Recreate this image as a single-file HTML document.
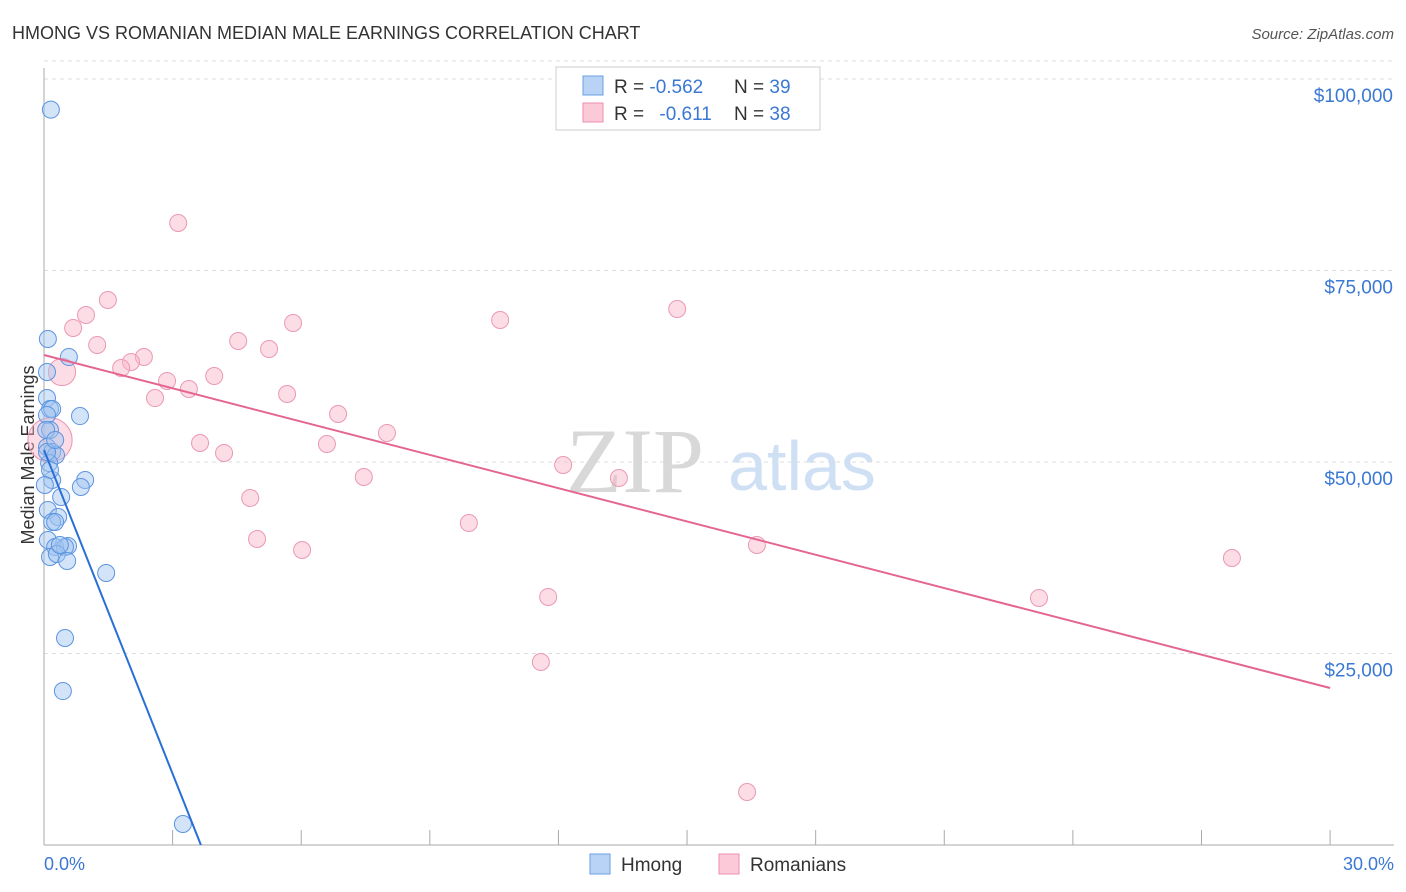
<!DOCTYPE html>
<html><head><meta charset="utf-8"><style>
body{margin:0;background:#fff;font-family:"Liberation Sans",sans-serif;}
svg{display:block}
</style></head><body>
<svg id="chart" width="1406" height="892">
<text x="12" y="39" font-size="18" fill="#333">HMONG VS ROMANIAN MEDIAN MALE EARNINGS CORRELATION CHART</text>
<text x="1394" y="39" font-size="15" fill="#555" font-style="italic" text-anchor="end">Source: ZipAtlas.com</text>
<g id="grid"></g>
<text x="635" y="492" font-size="92" fill="#d8d8d8" font-family="Liberation Serif,serif" text-anchor="middle">ZIP</text>
<text x="802" y="490" font-size="70" fill="#cfe0f5" text-anchor="middle">atlas</text>
<line x1="44" y1="68" x2="44" y2="845" stroke="#aaa"/>
<line x1="44" y1="845" x2="1394" y2="845" stroke="#aaa"/>
<g id="xticks"></g>
<text x="44" y="870" font-size="18" fill="#3a78d4">0.0%</text>
<text x="1394" y="870" font-size="18" fill="#3a78d4" text-anchor="end">30.0%</text>
<text transform="translate(34,455) rotate(-90)" font-size="18" fill="#333" text-anchor="middle">Median Male Earnings</text>
<g id="pts"></g>
<g id="lines"></g>
<g>
<rect x="556" y="67" width="264" height="63" fill="#fff" stroke="#ccc"/>
<rect x="583" y="76" width="20" height="19" fill="#b8d3f5" stroke="#6a9fe0"/>
<rect x="583" y="103" width="20" height="19" fill="#fbc9d8" stroke="#ec8fae"/>
<text x="614" y="93" font-size="19" fill="#333">R = <tspan fill="#3a78d4">-0.562</tspan></text>
<text x="734" y="93" font-size="19" fill="#333">N = <tspan fill="#3a78d4">39</tspan></text>
<text x="614" y="120" font-size="19" fill="#333">R = <tspan fill="#3a78d4" dx="10">-0.611</tspan></text>
<text x="734" y="120" font-size="19" fill="#333">N = <tspan fill="#3a78d4">38</tspan></text>
</g>
<g>
<rect x="590" y="854" width="20" height="20" fill="#b8d3f5" stroke="#6a9fe0"/>
<text x="621" y="871" font-size="19" fill="#333">Hmong</text>
<rect x="719" y="854" width="20" height="20" fill="#fbc9d8" stroke="#ec8fae"/>
<text x="750" y="871" font-size="19" fill="#333">Romanians</text>
</g>
</svg>
<script>
const yTicks=[25000,50000,75000,100000];
const yTickLabels=["$25,000","$50,000","$75,000","$100,000"];
const hmongX=[0.16,0.09,0.58,0.07,0.07,0.14,0.19,0.84,0.07,0.14,0.07,0.19,0.28,0.12,0.96,0.86,0.19,0.40,0.09,0.33,0.19,0.26,0.09,0.26,0.56,0.49,0.14,0.30,0.54,1.45,0.49,0.44,3.24,0.05,0.07,0.14,0.02,0.37,0.26];
const hmongY=[96000,66060,63700,61750,58350,56920,56920,56000,56140,54180,51960,51300,50900,49870,47650,46740,47650,45430,43730,42820,42170,42170,39820,38900,39030,38900,37600,37990,37080,35510,27020,20100,2740,54180,51300,48960,47000,39170,52870];
const romX=[3.13,1.49,0.98,0.68,1.24,5.81,4.53,5.25,10.64,14.77,2.33,2.03,1.80,0.42,3.97,2.87,3.38,2.59,5.67,6.86,8.0,3.64,4.20,6.60,7.46,12.11,13.41,4.81,9.91,4.97,6.02,16.63,27.71,11.76,23.21,11.59,16.4,0.14];
const romY=[81200,71150,69190,67500,65280,68150,65800,64750,68540,69970,63710,63060,62270,61750,61230,60580,59530,58350,58880,56270,53790,52480,51180,52350,48040,49610,47910,45300,42040,39950,38510,39170,37470,32380,32250,23890,6920,52870];
const romSize=[1,1,1,1,1,1,1,1,1,1,1,1,1,1.6,1,1,1,1,1,1,1,1,1,1,1,1,1,1,1,1,1,1,1,1,1,1,1,2.6];
const hmongTrend=[51570,-14090];
const romTrend=[63970,-1449];
const xs=p=>44+p*42.87, ys=v=>845-v*191.5/25000;
const NS="http://www.w3.org/2000/svg";
function mk(t,a,parent){const e=document.createElementNS(NS,t);for(const k in a)e.setAttribute(k,a[k]);document.getElementById(parent).appendChild(e);return e;}
yTicks.forEach((v,i)=>{
 const l=mk('line',{x1:44,x2:1394,y1:ys(v),y2:ys(v),stroke:'#ddd','stroke-dasharray':'4,4'},'grid');
 
 
 const t=mk('text',{x:1393,y:ys(v)+23,'font-size':19,fill:'#3a78d4','text-anchor':'end'},'grid');
 t.textContent=yTickLabels[i];
 
 
});
const topGrid=mk('line',{x1:44,x2:1394,y1:ys(102350),y2:ys(102350),stroke:'#ddd','stroke-dasharray':'4,4'},'grid');


for(let i=0;i<=10;i++){const l=mk('line',{x1:xs(i*3),x2:xs(i*3),y1:845,y2:830,stroke:'#aaa'},'xticks');
 
 }
romX.forEach((x,i)=>{const c=mk('circle',{cx:xs(x),cy:ys(romY[i]),r:8.5*romSize[i],fill:'rgba(248,180,200,0.45)',stroke:'#eb98b4','stroke-width':1},'pts');
 
 });
hmongX.forEach((x,i)=>{const c=mk('circle',{cx:xs(x),cy:ys(hmongY[i]),r:8.5,fill:'rgba(160,195,240,0.45)',stroke:'#5c95e0','stroke-width':1},'pts');
 
 });
const rl=mk('line',{x1:xs(0),y1:ys(romTrend[0]),x2:xs(30),y2:ys(romTrend[0]+30*romTrend[1]),stroke:'#e46690','stroke-width':2},'lines');


const hEnd=-hmongTrend[0]/hmongTrend[1];
const hl=mk('line',{x1:xs(0),y1:ys(hmongTrend[0]),x2:xs(hEnd),y2:ys(0),stroke:'#2a6fd6','stroke-width':2},'lines');


</script>
</body></html>
